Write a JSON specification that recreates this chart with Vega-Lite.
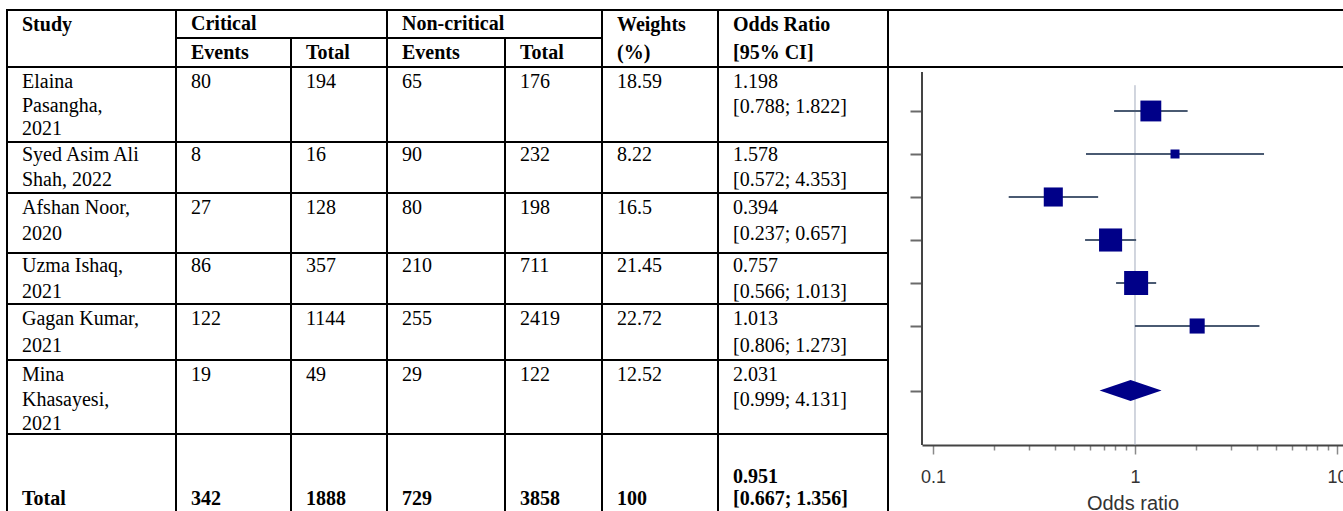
{
  "$schema": "https://vega.github.io/schema/vega-lite/v6.json",
  "padding": 0,
  "background": "white",
  "bounds": "flush",
  "spacing": 34,
  "config": {"view": {"stroke": null}, "axis": {"grid": false}},
  "datasets": {
    "grid": [
      {"x1": 7, "x2": 1343, "y1": 10, "y2": 10},
      {"x1": 176, "x2": 602, "y1": 38, "y2": 38},
      {"x1": 7, "x2": 1343, "y1": 67, "y2": 67},
      {"x1": 7, "x2": 888, "y1": 142, "y2": 142},
      {"x1": 7, "x2": 888, "y1": 193, "y2": 193},
      {"x1": 7, "x2": 888, "y1": 253, "y2": 253},
      {"x1": 7, "x2": 888, "y1": 304, "y2": 304},
      {"x1": 7, "x2": 888, "y1": 360, "y2": 360},
      {"x1": 7, "x2": 888, "y1": 434, "y2": 434},
      {"x1": 7, "x2": 7, "y1": 10, "y2": 520},
      {"x1": 176, "x2": 176, "y1": 10, "y2": 520},
      {"x1": 291, "x2": 291, "y1": 38, "y2": 520},
      {"x1": 387, "x2": 387, "y1": 10, "y2": 520},
      {"x1": 505, "x2": 505, "y1": 38, "y2": 520},
      {"x1": 602, "x2": 602, "y1": 10, "y2": 520},
      {"x1": 718, "x2": 718, "y1": 10, "y2": 520},
      {"x1": 888, "x2": 888, "y1": 10, "y2": 520}
    ],
    "cells": [
      {"t": "Study", "x": 22, "y": 25, "b": true},
      {"t": "Critical", "x": 191, "y": 24, "b": true},
      {"t": "Non-critical", "x": 402, "y": 24, "b": true},
      {"t": "Weights", "x": 617, "y": 25, "b": true},
      {"t": "Odds Ratio", "x": 733, "y": 25, "b": true},
      {"t": "Events", "x": 191, "y": 53, "b": true},
      {"t": "Total", "x": 306, "y": 53, "b": true},
      {"t": "Events", "x": 402, "y": 53, "b": true},
      {"t": "Total", "x": 520, "y": 53, "b": true},
      {"t": "(%)", "x": 617, "y": 53, "b": true},
      {"t": "[95% CI]", "x": 733, "y": 53, "b": true},

      {"t": "Elaina", "x": 22, "y": 82, "b": false},
      {"t": "Pasangha,", "x": 22, "y": 106, "b": false},
      {"t": "2021", "x": 22, "y": 129, "b": false},
      {"t": "80", "x": 191, "y": 82, "b": false},
      {"t": "194", "x": 306, "y": 82, "b": false},
      {"t": "65", "x": 402, "y": 82, "b": false},
      {"t": "176", "x": 520, "y": 82, "b": false},
      {"t": "18.59", "x": 617, "y": 82, "b": false},
      {"t": "1.198", "x": 733, "y": 82, "b": false},
      {"t": "[0.788; 1.822]", "x": 733, "y": 107, "b": false},

      {"t": "Syed Asim Ali", "x": 22, "y": 155, "b": false},
      {"t": "Shah, 2022", "x": 22, "y": 180, "b": false},
      {"t": "8", "x": 191, "y": 155, "b": false},
      {"t": "16", "x": 306, "y": 155, "b": false},
      {"t": "90", "x": 402, "y": 155, "b": false},
      {"t": "232", "x": 520, "y": 155, "b": false},
      {"t": "8.22", "x": 617, "y": 155, "b": false},
      {"t": "1.578", "x": 733, "y": 155, "b": false},
      {"t": "[0.572; 4.353]", "x": 733, "y": 180, "b": false},

      {"t": "Afshan Noor,", "x": 22, "y": 208, "b": false},
      {"t": "2020", "x": 22, "y": 234, "b": false},
      {"t": "27", "x": 191, "y": 208, "b": false},
      {"t": "128", "x": 306, "y": 208, "b": false},
      {"t": "80", "x": 402, "y": 208, "b": false},
      {"t": "198", "x": 520, "y": 208, "b": false},
      {"t": "16.5", "x": 617, "y": 208, "b": false},
      {"t": "0.394", "x": 733, "y": 208, "b": false},
      {"t": "[0.237; 0.657]", "x": 733, "y": 234, "b": false},

      {"t": "Uzma Ishaq,", "x": 22, "y": 266, "b": false},
      {"t": "2021", "x": 22, "y": 292, "b": false},
      {"t": "86", "x": 191, "y": 266, "b": false},
      {"t": "357", "x": 306, "y": 266, "b": false},
      {"t": "210", "x": 402, "y": 266, "b": false},
      {"t": "711", "x": 520, "y": 266, "b": false},
      {"t": "21.45", "x": 617, "y": 266, "b": false},
      {"t": "0.757", "x": 733, "y": 266, "b": false},
      {"t": "[0.566; 1.013]", "x": 733, "y": 292, "b": false},

      {"t": "Gagan Kumar,", "x": 22, "y": 319, "b": false},
      {"t": "2021", "x": 22, "y": 346, "b": false},
      {"t": "122", "x": 191, "y": 319, "b": false},
      {"t": "1144", "x": 306, "y": 319, "b": false},
      {"t": "255", "x": 402, "y": 319, "b": false},
      {"t": "2419", "x": 520, "y": 319, "b": false},
      {"t": "22.72", "x": 617, "y": 319, "b": false},
      {"t": "1.013", "x": 733, "y": 319, "b": false},
      {"t": "[0.806; 1.273]", "x": 733, "y": 346, "b": false},

      {"t": "Mina", "x": 22, "y": 375, "b": false},
      {"t": "Khasayesi,", "x": 22, "y": 400, "b": false},
      {"t": "2021", "x": 22, "y": 424, "b": false},
      {"t": "19", "x": 191, "y": 375, "b": false},
      {"t": "49", "x": 306, "y": 375, "b": false},
      {"t": "29", "x": 402, "y": 375, "b": false},
      {"t": "122", "x": 520, "y": 375, "b": false},
      {"t": "12.52", "x": 617, "y": 375, "b": false},
      {"t": "2.031", "x": 733, "y": 375, "b": false},
      {"t": "[0.999; 4.131]", "x": 733, "y": 400, "b": false},

      {"t": "Total", "x": 22, "y": 499, "b": true},
      {"t": "342", "x": 191, "y": 499, "b": true},
      {"t": "1888", "x": 306, "y": 499, "b": true},
      {"t": "729", "x": 402, "y": 499, "b": true},
      {"t": "3858", "x": 520, "y": 499, "b": true},
      {"t": "100", "x": 617, "y": 499, "b": true},
      {"t": "0.951", "x": 733, "y": 477, "b": true},
      {"t": "[0.667; 1.356]", "x": 733, "y": 499, "b": true}
    ],
    "studies": [
      {"study": "Elaina Pasangha, 2021", "or": 1.198, "lo": 0.788, "hi": 1.822, "w": 18.59, "row": 1},
      {"study": "Syed Asim Ali Shah, 2022", "or": 1.578, "lo": 0.572, "hi": 4.353, "w": 8.22, "row": 2},
      {"study": "Afshan Noor, 2020", "or": 0.394, "lo": 0.237, "hi": 0.657, "w": 16.5, "row": 3},
      {"study": "Uzma Ishaq, 2021", "or": 0.757, "lo": 0.566, "hi": 1.013, "w": 21.45, "row": 4},
      {"study": "Gagan Kumar, 2021", "or": 1.013, "lo": 0.806, "hi": 1.273, "w": 22.72, "row": 5},
      {"study": "Mina Khasayesi, 2021", "or": 2.031, "lo": 0.999, "hi": 4.131, "w": 12.52, "row": 6}
    ],
    "pooled": [
      {"study": "Total", "or": 0.951, "lo": 0.667, "hi": 1.356, "row": 7.5}
    ],
    "refline": [{"x": 1, "y1": 0.4, "y2": 8.767}],
    "axisline": [{"x": 0.0882, "y1": 0.093, "y2": 8.767}]
  },
  "hconcat": [
    {
      "width": 888,
      "height": 511,
      "layer": [
        {
          "data": {"name": "grid"},
          "mark": {"type": "rule", "stroke": "#000000", "strokeWidth": 2, "strokeCap": "square"},
          "encoding": {
            "x": {"field": "x1", "type": "quantitative", "scale": {"domain": [0, 888], "nice": false, "zero": false}, "axis": null},
            "x2": {"field": "x2"},
            "y": {"field": "y1", "type": "quantitative", "scale": {"domain": [0, 511], "reverse": true, "nice": false, "zero": false}, "axis": null},
            "y2": {"field": "y2"}
          }
        },
        {
          "data": {"name": "cells"},
          "transform": [{"filter": "!datum.b"}],
          "mark": {"type": "text", "align": "left", "baseline": "middle", "font": "Liberation Serif", "fontSize": 20, "color": "#000000"},
          "encoding": {
            "x": {"field": "x", "type": "quantitative", "axis": null},
            "y": {"field": "y", "type": "quantitative", "axis": null},
            "text": {"field": "t"}
          }
        },
        {
          "data": {"name": "cells"},
          "transform": [{"filter": "datum.b"}],
          "mark": {"type": "text", "align": "left", "baseline": "middle", "font": "Liberation Serif", "fontSize": 20, "fontWeight": "bold", "color": "#000000"},
          "encoding": {
            "x": {"field": "x", "type": "quantitative", "axis": null},
            "y": {"field": "y", "type": "quantitative", "axis": null},
            "text": {"field": "t"}
          }
        }
      ]
    },
    {
      "width": 421,
      "height": 445,
      "layer": [
        {
          "data": {"name": "refline"},
          "mark": {"type": "rule", "stroke": "#a3acbd", "strokeWidth": 1},
          "encoding": {
            "x": {
              "field": "x", "type": "quantitative",
              "scale": {"type": "log", "domain": [0.0882, 10.71], "nice": false},
              "axis": {
                "values": [0.1, 0.2, 0.3, 0.4, 0.5, 0.6, 0.7, 0.8, 0.9, 1, 2, 3, 4, 5, 6, 7, 8, 9, 10],
                "labelExpr": "datum.value == 0.1 ? '0.1' : datum.value == 1 ? '1' : datum.value == 10 ? '10' : ''",
                "tickSize": {"condition": {"test": "datum.value == 0.1 || datum.value == 1 || datum.value == 10", "value": 9}, "value": 5},
                "tickColor": "#8a8a8a",
                "tickWidth": 1.5,
                "domainColor": "#444444",
                "domainWidth": 2,
                "labelFont": "Liberation Sans",
                "labelFontSize": 18,
                "labelColor": "#333333",
                "labelPadding": 14,
                "labelFlush": false,
                "labelOverlap": false,
                "title": "Odds ratio",
                "titleFont": "Liberation Sans",
                "titleFontSize": 20,
                "titleFontWeight": "normal",
                "titleColor": "#333333",
                "titlePadding": 7,
                "grid": false
              }
            },
            "y": {
              "field": "y1", "type": "quantitative",
              "scale": {"domain": [-1.581, 8.767], "reverse": true, "nice": false, "zero": false},
              "axis": {"values": [1, 2, 3, 4, 5, 6, 7.5], "labels": false, "domain": false, "tickSize": 12, "tickColor": "#6a6a6a", "tickWidth": 2, "title": null, "grid": false}
            },
            "y2": {"field": "y2"}
          }
        },
        {
          "data": {"name": "axisline"},
          "mark": {"type": "rule", "stroke": "#444444", "strokeWidth": 2},
          "encoding": {
            "x": {"field": "x", "type": "quantitative"},
            "y": {"field": "y1", "type": "quantitative"},
            "y2": {"field": "y2"}
          }
        },
        {
          "data": {"name": "studies"},
          "mark": {"type": "rule", "stroke": "#4a5a72", "strokeWidth": 2},
          "encoding": {
            "x": {"field": "lo", "type": "quantitative"},
            "x2": {"field": "hi"},
            "y": {"field": "row", "type": "quantitative"}
          }
        },
        {
          "data": {"name": "studies"},
          "mark": {"type": "point", "shape": "square", "filled": true, "opacity": 1, "color": "#000088"},
          "encoding": {
            "x": {"field": "or", "type": "quantitative"},
            "y": {"field": "row", "type": "quantitative"},
            "size": {"field": "w", "type": "quantitative", "scale": {"domain": [8.22, 22.72], "range": [81, 576], "zero": false}, "legend": null}
          }
        },
        {
          "data": {"name": "pooled"},
          "mark": {"type": "point", "shape": "M-1,0L0,-0.34L1,0L0,0.34Z", "filled": true, "opacity": 1, "color": "#000088", "size": 3844},
          "encoding": {
            "x": {"field": "or", "type": "quantitative"},
            "y": {"field": "row", "type": "quantitative"}
          }
        }
      ]
    }
  ]
}
